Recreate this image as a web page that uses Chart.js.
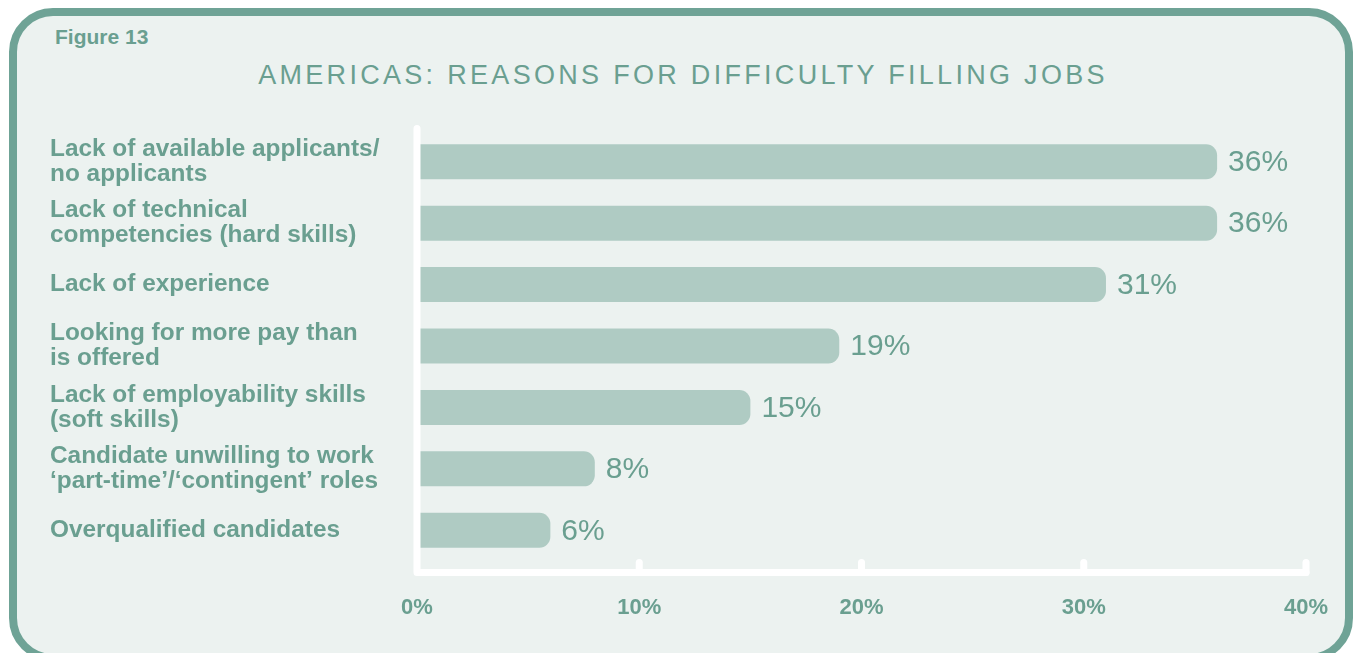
<!DOCTYPE html>
<html>
<head>
<meta charset="utf-8">
<script src="https://cdn.jsdelivr.net/npm/chart.js@4"></script>
<style>
  html, body { margin: 0; padding: 0; background: #ffffff; width: 1354px; height: 653px; overflow: hidden; }
  #frame { position: absolute; left: 9px; top: 8px; width: 1328px; height: 638px; border: 8px solid #6fa396; border-radius: 44px; background: #ecf2f0; }
  #fig { position: absolute; left: 55px; top: 26px; font: bold 21px "Liberation Sans", Arial, sans-serif; line-height: 21px; color: #6a9f90; }
  #title { position: absolute; left: 0; top: 62px; width: 1366px; text-align: center; font: 27px "Liberation Sans", Arial, sans-serif; line-height: 27px; letter-spacing: 3.3px; color: #6a9f90; white-space: nowrap; }
  #c { position: absolute; left: 0; top: 0; }
</style>
</head>
<body>
<div id="frame"></div>
<div id="fig">Figure 13</div>
<div id="title">AMERICAS: REASONS FOR DIFFICULTY FILLING JOBS</div>
<canvas id="c" width="1354" height="653"></canvas>
<script>
const categories = [
  ["Lack of available applicants/", "no applicants"],
  ["Lack of technical", "competencies (hard skills)"],
  ["Lack of experience"],
  ["Looking for more pay than", "is offered"],
  ["Lack of employability skills", "(soft skills)"],
  ["Candidate unwilling to work", "\u2018part-time\u2019/\u2018contingent\u2019 roles"],
  ["Overqualified candidates"]
];
const values = [36, 36, 31, 19, 15, 8, 6];
const xTicks = [0, 10, 20, 30, 40];

const TEXT = '#6a9f90';
const BAR = '#afcbc3';
const FONT = '"Liberation Sans", Arial, sans-serif';

const axisPlugin = {
  id: 'axisLines',
  afterDatasetsDraw(chart) {
    const { ctx, chartArea, scales } = chart;
    const xs = scales.x;
    const x0 = xs.getPixelForValue(xTicks[0]);
    const xEnd = xs.getPixelForValue(xTicks[xTicks.length - 1]);
    const yAxis = chartArea.bottom + 11.5;
    ctx.save();
    ctx.strokeStyle = '#ffffff';
    ctx.lineWidth = 7;
    ctx.lineCap = 'round';
    ctx.lineJoin = 'round';
    ctx.beginPath();
    ctx.moveTo(x0, chartArea.top - 2.5);
    ctx.lineTo(x0, yAxis);
    ctx.lineTo(xEnd, yAxis);
    ctx.stroke();
    for (let i = 1; i < xTicks.length; i++) {
      const px = xs.getPixelForValue(xTicks[i]);
      ctx.beginPath();
      ctx.moveTo(px, yAxis - 10);
      ctx.lineTo(px, yAxis);
      ctx.stroke();
    }
    ctx.restore();
  }
};

const labelPlugin = {
  id: 'valueLabels',
  afterDatasetsDraw(chart) {
    const { ctx } = chart;
    const meta = chart.getDatasetMeta(0);
    ctx.save();
    ctx.fillStyle = TEXT;
    ctx.font = '30px ' + FONT;
    ctx.textAlign = 'left';
    ctx.textBaseline = 'middle';
    meta.data.forEach((bar, i) => {
      ctx.fillText(values[i] + '%', bar.x + 11, bar.y + 1);
    });
    ctx.restore();
  }
};

new Chart(document.getElementById('c'), {
  type: 'bar',
  data: {
    labels: categories,
    datasets: [{
      data: values,
      backgroundColor: BAR,
      borderWidth: 0,
      borderRadius: 11,
      borderSkipped: 'start',
      categoryPercentage: 1,
      barPercentage: 0.57
    }]
  },
  options: {
    indexAxis: 'y',
    responsive: false,
    devicePixelRatio: 1,
    animation: false,
    layout: { padding: { left: 50, right: 48, top: 131, bottom: 0 } },
    plugins: { legend: { display: false }, tooltip: { enabled: false }, title: { display: false } },
    scales: {
      x: {
        min: 0, max: 40,
        afterFit(scale) { scale.height = 92; scale.paddingLeft = 0; scale.paddingRight = 0; },
        afterBuildTicks(scale) { scale.ticks = xTicks.map(v => ({ value: v })); },
        grid: { display: false, drawTicks: false },
        border: { display: false },
        ticks: {
          padding: 34,
          color: TEXT,
          font: { family: FONT, size: 22, weight: 'bold' },
          callback: v => v + '%'
        }
      },
      y: {
        afterFit(scale) { scale.width = 367; scale.paddingTop = 0; scale.paddingBottom = 0; },
        grid: { display: false, drawTicks: false },
        border: { display: false },
        ticks: {
          crossAlign: 'far',
          padding: 0,
          color: TEXT,
          font: { family: FONT, size: 24.4, weight: 'bold', lineHeight: 1.03 }
        }
      }
    }
  },
  plugins: [axisPlugin, labelPlugin]
});
</script>
</body>
</html>
